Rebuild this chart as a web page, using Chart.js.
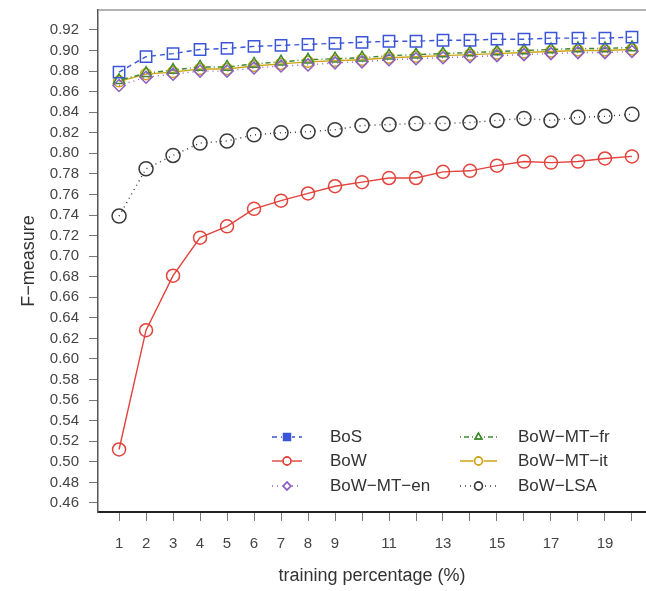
<!DOCTYPE html>
<html lang="en">
<head>
<meta charset="UTF-8">
<title>F-measure vs training percentage</title>
<script src="https://cdn.jsdelivr.net/npm/chart.js@4.4.0/dist/chart.umd.min.js"></script>
<style>
  html, body { margin: 0; padding: 0; background: #fff; }
  #wrap { width: 646px; height: 591px; position: relative; }
</style>
</head>
<body>
<div id="wrap"><canvas id="chart"></canvas></div>
<script>
    // training percentage (x) and F-measure per method
    const trainPct = [1, 2, 3, 4, 5, 6, 7, 8, 9, 10, 11, 12, 13, 14, 15, 16, 17, 18, 19, 20];
    const bos      = [0.879, 0.894, 0.897, 0.901, 0.902, 0.904, 0.905, 0.906, 0.907, 0.908, 0.909, 0.909, 0.910, 0.910, 0.911, 0.911, 0.912, 0.912, 0.912, 0.913];
    const bow      = [0.512, 0.628, 0.681, 0.718, 0.729, 0.746, 0.754, 0.761, 0.768, 0.772, 0.776, 0.776, 0.782, 0.783, 0.788, 0.792, 0.791, 0.792, 0.795, 0.797];
    const bowMtEn  = [0.866, 0.874, 0.877, 0.880, 0.880, 0.883, 0.885, 0.886, 0.888, 0.889, 0.891, 0.892, 0.893, 0.894, 0.895, 0.896, 0.897, 0.898, 0.898, 0.899];
    const bowMtFr  = [0.871, 0.878, 0.881, 0.884, 0.884, 0.887, 0.889, 0.891, 0.892, 0.893, 0.895, 0.896, 0.897, 0.898, 0.899, 0.900, 0.901, 0.902, 0.902, 0.903];
    const bowMtIt  = [0.870, 0.877, 0.879, 0.882, 0.882, 0.885, 0.887, 0.889, 0.890, 0.891, 0.893, 0.894, 0.895, 0.896, 0.897, 0.898, 0.899, 0.900, 0.900, 0.901];
    const bowLsa   = [0.739, 0.785, 0.798, 0.810, 0.812, 0.818, 0.820, 0.821, 0.823, 0.827, 0.828, 0.829, 0.829, 0.830, 0.832, 0.834, 0.832, 0.835, 0.836, 0.838];

    const yTicks = [0.46, 0.48, 0.50, 0.52, 0.54, 0.56, 0.58, 0.60, 0.62, 0.64, 0.66, 0.68, 0.70, 0.72, 0.74, 0.76, 0.78, 0.80, 0.82, 0.84, 0.86, 0.88, 0.90, 0.92];
    const xLabelled = [1, 2, 3, 4, 5, 6, 7, 8, 9, 11, 13, 15, 17, 19];

    const FONT = "'Liberation Sans', Arial, Helvetica, sans-serif";

    function series(label, values, color, dash, style, radius) {
        return {
            label: label,
            data: values.map((v, i) => ({ x: trainPct[i], y: v })),
            borderColor: color,
            borderWidth: 1.4,
            borderDash: dash,
            pointStyle: style,
            pointRadius: radius,
            pointBorderColor: color,
            pointBorderWidth: 1.5,
            pointBackgroundColor: 'rgba(0,0,0,0)',
            fill: false,
            tension: 0,
            clip: false
        };
    }

    const datasets = [
        series('BoS', bos, '#3a55d6', [5, 4], 'rect', 8),
        series('BoW', bow, '#e2433c', [], 'circle', 6.5),
        series('BoW\u2212MT\u2212en', bowMtEn, '#8e5ec4', [1, 4], 'rectRot', 6),
        series('BoW\u2212MT\u2212fr', bowMtFr, '#3d8a2b', [1, 3, 5, 3], 'triangle', 6.5),
        series('BoW\u2212MT\u2212it', bowMtIt, '#cfa516', [], 'circle', 5.5),
        series('BoW\u2212LSA', bowLsa, '#3a3a3a', [1, 4], 'circle', 7)
    ];

    // legend drawn inside the plot, two columns, R style
    const innerLegend = {
        id: 'innerLegend',
        afterDatasetsDraw(chart) {
            const ctx = chart.ctx;
            const cols = [{ x0: 272, x1: 302, tx: 330 }, { x0: 460, x1: 497, tx: 518 }];
            const rows = [437, 461, 486];
            ctx.save();
            chart.data.datasets.forEach((ds, i) => {
                const col = cols[Math.floor(i / 3)];
                const y = rows[i % 3];
                ctx.strokeStyle = ds.borderColor;
                ctx.lineWidth = 1.4;
                ctx.setLineDash(ds.borderDash);
                ctx.beginPath();
                ctx.moveTo(col.x0, y);
                ctx.lineTo(col.x1, y);
                ctx.stroke();
                ctx.setLineDash([]);
                const mx = (col.x0 + col.x1) / 2;
                ctx.fillStyle = '#fff';
                ctx.fillRect(mx - 5, y - 5, 10, 10);
                Chart.helpers.drawPoint(ctx, {
                    pointStyle: ds.pointStyle,
                    radius: ds.pointStyle === 'rect' ? 5 : 4,
                    borderWidth: 1.5,
                    rotation: 0
                }, mx, y);
                ctx.strokeStyle = ds.borderColor;
                if (ds.pointStyle === 'rect') {
                    ctx.fillStyle = ds.borderColor;
                    ctx.fillRect(mx - 3.5, y - 3.5, 7, 7);
                } else {
                    ctx.stroke();
                }
                ctx.fillStyle = '#333';
                ctx.font = '17px ' + FONT;
                ctx.textBaseline = 'middle';
                ctx.textAlign = 'left';
                ctx.fillText(ds.label, col.tx, y);
            });
            ctx.restore();
        }
    };

    // grey top frame line
    const frame = {
        id: 'frame',
        beforeDatasetsDraw(chart) {
            const a = chart.chartArea;
            const ctx = chart.ctx;
            ctx.save();
            ctx.strokeStyle = '#999';
            ctx.lineWidth = 1.5;
            ctx.beginPath();
            ctx.moveTo(a.left, a.top);
            ctx.lineTo(a.right, a.top);
            ctx.stroke();
            ctx.restore();
        }
    };

    new Chart(document.getElementById('chart'), {
        type: 'line',
        data: { datasets: datasets },
        options: {
            responsive: true,
            maintainAspectRatio: false,
            animation: false,
            layout: { autoPadding: false, padding: { top: 10, right: 0, left: 0, bottom: 0 } },
            plugins: { legend: { display: false }, tooltip: { enabled: false } },
            scales: {
                x: {
                    type: 'linear',
                    min: 0.22,
                    max: 20.52,
                    afterBuildTicks: s => { s.ticks = trainPct.map(v => ({ value: v })); },
                    afterFit: s => { s.height = 79; s.paddingLeft = 0; s.paddingRight = 0; },
                    ticks: {
                        autoSkip: false,
                        maxRotation: 0,
                        padding: 14,
                        color: '#444',
                        font: { family: FONT, size: 15 },
                        callback: v => xLabelled.includes(v) ? String(v) : ''
                    },
                    grid: { drawOnChartArea: false, drawTicks: true, tickLength: 9, color: '#777', lineWidth: 1 },
                    border: { display: true, color: '#222', width: 2 },
                    title: {
                        display: true,
                        text: 'training percentage (%)',
                        color: '#333',
                        font: { family: FONT, size: 18 },
                        padding: { top: 4 }
                    }
                },
                y: {
                    min: 0.4512,
                    max: 0.9394,
                    afterBuildTicks: s => { s.ticks = yTicks.map(v => ({ value: v })); },
                    afterFit: s => { s.width = 98; s.paddingTop = 0; s.paddingBottom = 0; },
                    ticks: {
                        autoSkip: false,
                        padding: 10,
                        color: '#444',
                        font: { family: FONT, size: 15 },
                        callback: v => v.toFixed(2)
                    },
                    grid: { drawOnChartArea: false, drawTicks: true, tickLength: 9, color: '#777', lineWidth: 1 },
                    border: { display: true, color: '#555', width: 1.5 },
                    title: {
                        display: true,
                        text: 'F\u2212measure',
                        color: '#333',
                        font: { family: FONT, size: 18 },
                        padding: { top: 18, bottom: 0 }
                    }
                }
            }
        },
        plugins: [frame, innerLegend]
    });
</script>
</body>
</html>
